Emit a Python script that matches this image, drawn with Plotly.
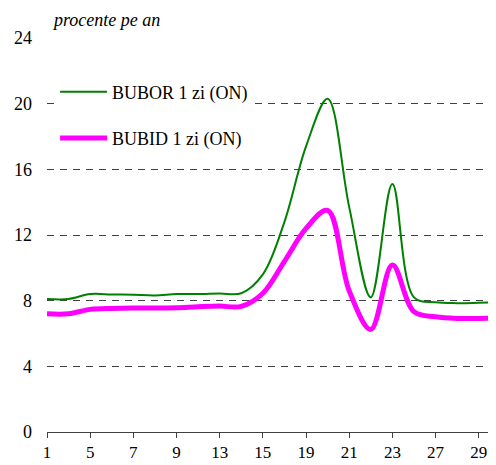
import plotly.graph_objects as go

# zile lucratoare (axa de categorii)
zile = ["1", "2", "5", "6", "7", "8", "9", "12", "13", "14", "15",
        "16", "19", "20", "21", "22", "23", "26", "27", "28", "29", "30"]
bubor = [8.1, 8.1, 8.4, 8.38, 8.36, 8.32, 8.4, 8.4, 8.44, 8.45, 9.6,
         12.8, 17.4, 20.3, 13.7, 8.2, 15.1, 8.2, 7.9, 7.85, 7.87, 7.9]
bubid = [7.2, 7.2, 7.47, 7.53, 7.55, 7.55, 7.57, 7.63, 7.67, 7.65, 8.45,
         10.4, 12.4, 13.5, 8.6, 6.25, 10.17, 7.33, 7.02, 6.92, 6.92, 6.95]
etichete_x = zile[::2]
valori_y = [0, 4, 8, 12, 16, 20, 24]

FONT = "Liberation Serif, Times New Roman, serif"
poz = list(range(len(zile)))

fig = go.Figure()
fig.add_trace(go.Scatter(
    x=poz, y=bubor, name="BUBOR 1 zi (ON)", mode="lines",
    line=dict(color="#008000", width=2, shape="spline", smoothing=1),
    legendgroup="a",
))
fig.add_trace(go.Scatter(
    x=poz, y=bubid, name="BUBID 1 zi (ON)", mode="lines",
    line=dict(color="#ff00ff", width=5, shape="spline", smoothing=1),
    legendgroup="b",
))

# pagina are margine de 8px in jurul graficului
fig.update_layout(
    width=488, height=457,
    margin=dict(l=39, r=0, t=30, b=33),
    paper_bgcolor="white", plot_bgcolor="white",
    font=dict(family=FONT, size=18, color="black"),
    showlegend=True,
    legend=dict(
        x=0.018, y=0.91, xanchor="left", yanchor="top",
        bgcolor="white", borderwidth=0,
        font=dict(family=FONT, size=18, color="black"),
        tracegroupgap=20, itemwidth=47,
    ),
    xaxis=dict(
        range=[0, 20.8], tickmode="array",
        tickvals=poz[::2], ticktext=etichete_x,
        showgrid=False, zeroline=False, automargin=False,
        showline=True, linecolor="#404040", linewidth=1,
        ticks="outside", ticklen=5, tickcolor="#404040",
        ticklabelstandoff=0,
        tickfont=dict(family=FONT, size=17),
    ),
    yaxis=dict(
        range=[0, 24], tickmode="array", tickvals=valori_y,
        showgrid=True, gridcolor="#404040", griddash="7px,6px", gridwidth=1,
        zeroline=False, showline=False, ticks="", automargin=False,
        ticklabelstandoff=14,
        tickfont=dict(family=FONT, size=18),
    ),
    annotations=[dict(
        text="<i>procente pe an</i>", xref="paper", yref="paper",
        x=0.007, y=1.046, xanchor="left", yanchor="middle",
        showarrow=False, font=dict(family=FONT, size=18),
    )],
)

fig.write_html("out.html")
